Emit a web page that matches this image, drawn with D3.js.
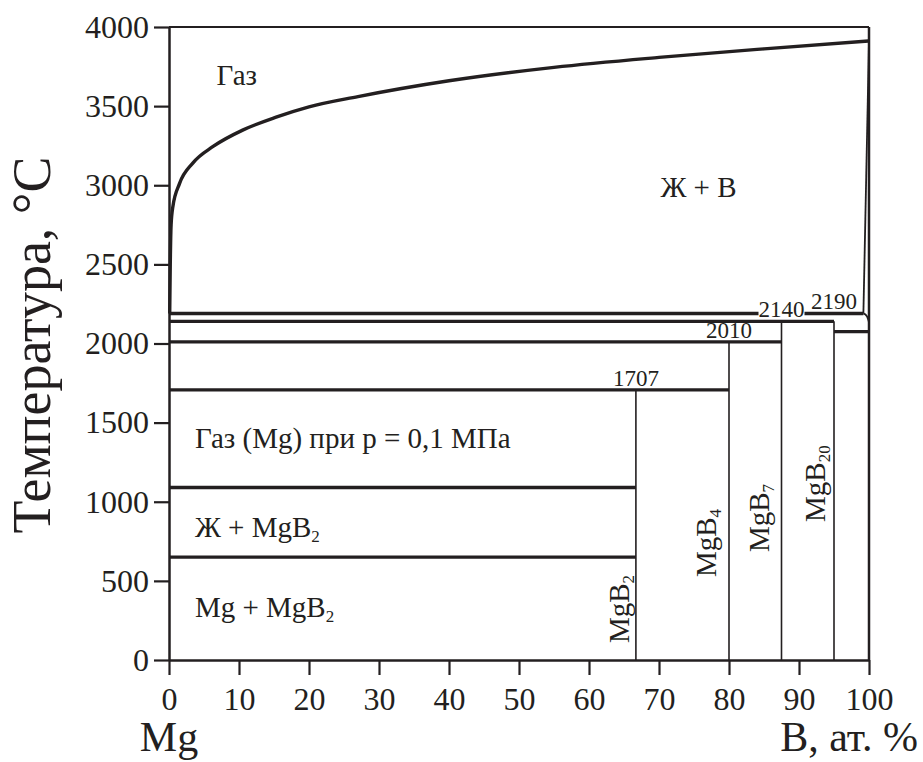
<!DOCTYPE html>
<html>
<head>
<meta charset="utf-8">
<script src="https://cdn.jsdelivr.net/npm/d3@7"></script>
<style>
  html, body { margin: 0; padding: 0; background: #fff; }
  svg { display: block; }
  text { font-family: "Liberation Serif", "Times New Roman", serif; fill: #231f20; }
</style>
</head>
<body>
<svg id="chart" width="923" height="762"></svg>
<script>
// ---- data ----
const xTickValues = [0, 10, 20, 30, 40, 50, 60, 70, 80, 90, 100];
const yTickValues = [0, 500, 1000, 1500, 2000, 2500, 3000, 3500, 4000];

// liquidus (gas / L+B boundary), B at.% and temperature
const liquidusB = [0.1, 0.18, 0.3, 0.55, 1.5, 3.4, 6.3, 10.6, 15.3, 20, 27, 40, 55, 70, 85, 100];
const liquidusT = [2190, 2500, 2750, 2864, 3010, 3140, 3245, 3350, 3430, 3495, 3560, 3660, 3745, 3808, 3862, 3912];

// boron-side boundary
const rightB = [99.2, 100];
const rightT = [2190, 3912];
const cornerB = [99.2, 99.7, 100];
const cornerT = [2190, 2172, 2135];

// isotherms (horizontal lines)
const isoT  = [2190, 2140, 2010, 1707, 1090, 650, 2075];
const isoB0 = [0, 0, 0, 0, 0, 0, 95];
const isoB1 = [99.2, 95, 87.5, 80, 66.7, 66.7, 100];

// compounds (vertical lines)
const compoundB = [66.7, 80, 87.5, 95];
const compoundTop = [1707, 2010, 2140, 2140];
const compoundName = ["MgB", "MgB", "MgB", "MgB"];
const compoundSub = ["2", "4", "7", "20"];
// label anchor (baseline) for each compound name, in data units
const compoundLabelB = [65.7, 78.2, 85.7, 93.7];
const compoundLabelT = [107, 524, 682, 872];

// temperature labels over compounds
const tempLabelB = [66.7, 80, 87.5, 95];
const tempLabelT = [1707, 2010, 2140, 2190];

// region labels
const regionText = ["Газ", "Ж + В", "Газ (Mg) при p = 0,1 МПа", "Ж + MgB", "Mg + MgB"];
const regionSub  = ["", "", "", "2", "2"];
const regionB    = [6.8, 70.2, 3.7, 3.7, 3.7];
const regionT    = [3633, 2926, 1340, 777, 272];

// ---- drawing ----
const ink = "#231f20";
const svg = d3.select("#chart");
const x = d3.scaleLinear().domain([0, 100]).range([169, 869]);
const y = d3.scaleLinear().domain([0, 4000]).range([660, 27]);

// frame: top and right
svg.append("line").attr("x1", x(0)).attr("x2", x(100)).attr("y1", y(4000)).attr("y2", y(4000))
  .attr("stroke", ink).attr("stroke-width", 2.2);
svg.append("line").attr("x1", x(100)).attr("x2", x(100)).attr("y1", y(0)).attr("y2", y(4000))
  .attr("stroke", ink).attr("stroke-width", 2.5);

// axes
const xAxis = d3.axisBottom(x).tickValues(xTickValues).tickSize(15).tickSizeOuter(0).tickPadding(12)
  .tickFormat(d3.format("d"));
const gx = svg.append("g").attr("transform", `translate(0,${y(0)})`).call(xAxis);
gx.select(".domain").attr("stroke", ink).attr("stroke-width", 2.5);
gx.selectAll(".tick line").attr("stroke", ink).attr("stroke-width", 2.2);
gx.selectAll(".tick text").attr("font-size", 32).attr("fill", ink);

const yAxis = d3.axisLeft(y).tickValues(yTickValues).tickSize(15).tickSizeOuter(0).tickPadding(5)
  .tickFormat(d3.format("d"));
const gy = svg.append("g").attr("transform", `translate(${x(0)},0)`).call(yAxis);
gy.select(".domain").attr("stroke", ink).attr("stroke-width", 2.5);
gy.selectAll(".tick line").attr("stroke", ink).attr("stroke-width", 2.2);
gy.selectAll(".tick text").attr("font-size", 32).attr("fill", ink);

// axis titles
svg.append("text").attr("transform", `translate(50,345) rotate(-90)`).attr("text-anchor", "middle")
  .attr("font-size", 54).text("Температура, °C");
svg.append("text").attr("x", x(0)).attr("y", 751).attr("text-anchor", "middle")
  .attr("font-size", 42).text("Mg");
svg.append("text").attr("x", 918).attr("y", 751).attr("text-anchor", "end")
  .attr("font-size", 42).text("B, ат. %");

// liquidus curve
const line = d3.line().x(d => x(d[0])).y(d => y(d[1])).curve(d3.curveMonotoneX);
svg.append("path").datum(liquidusB.map((b, i) => [b, liquidusT[i]]))
  .attr("d", line).attr("fill", "none").attr("stroke", ink).attr("stroke-width", 3.4);

// boron side
svg.append("path").datum(rightB.map((b, i) => [b, rightT[i]]))
  .attr("d", d3.line().x(d => x(d[0])).y(d => y(d[1]))).attr("fill", "none")
  .attr("stroke", ink).attr("stroke-width", 1.8);
svg.append("path").datum(cornerB.map((b, i) => [b, cornerT[i]]))
  .attr("d", line).attr("fill", "none").attr("stroke", ink).attr("stroke-width", 1.8);

// compound verticals
svg.selectAll("line.compound").data(compoundB).join("line").attr("class", "compound")
  .attr("x1", d => x(d)).attr("x2", d => x(d))
  .attr("y1", y(0)).attr("y2", (d, i) => y(compoundTop[i]))
  .attr("stroke", ink).attr("stroke-width", 1.6);

// isotherms
svg.selectAll("line.iso").data(isoT).join("line").attr("class", "iso")
  .attr("x1", (d, i) => x(isoB0[i])).attr("x2", (d, i) => x(isoB1[i]))
  .attr("y1", d => y(d)).attr("y2", d => y(d))
  .attr("stroke", ink).attr("stroke-width", 3.4);

// temperature labels (with knockout where they cross another isotherm)
tempLabelT.forEach((t, i) => {
  const cx = x(tempLabelB[i]);
  const base = y(t) - 4;
  const top = base - 16, bottom = base;
  const crosses = isoT.some((T, j) => T !== t && y(T) > top && y(T) < bottom + 1 &&
    x(isoB0[j]) < cx && x(isoB1[j]) > cx);
  if (crosses) {
    svg.append("rect").attr("x", cx - 23).attr("y", top - 1).attr("width", 46).attr("height", bottom - top + 2)
      .attr("fill", "#fff");
  }
  svg.append("text").attr("x", cx).attr("y", base).attr("text-anchor", "middle")
    .attr("font-size", 23).text(t);
});

// compound labels (rotated)
compoundB.forEach((b, i) => {
  const t = svg.append("text")
    .attr("transform", `translate(${x(compoundLabelB[i])},${y(compoundLabelT[i])}) rotate(-90)`)
    .attr("font-size", 29);
  t.append("tspan").text(compoundName[i]);
  t.append("tspan").attr("font-size", 17).attr("dy", 5).text(compoundSub[i]);
});

// region labels
regionText.forEach((s, i) => {
  const t = svg.append("text").attr("x", x(regionB[i])).attr("y", y(regionT[i])).attr("font-size", 29);
  t.append("tspan").text(s);
  if (regionSub[i]) t.append("tspan").attr("font-size", 17).attr("dy", 5).text(regionSub[i]);
});
</script>
</body>
</html>
